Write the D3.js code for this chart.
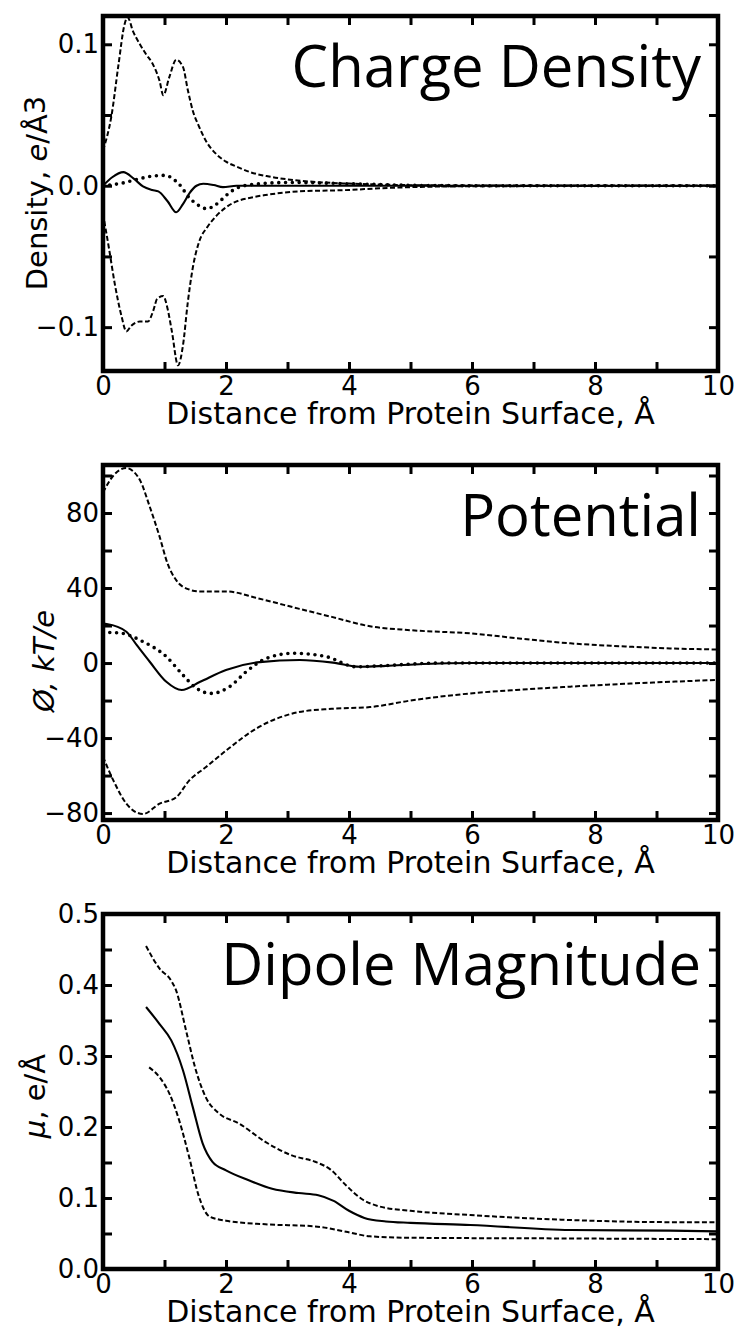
<!DOCTYPE html>
<html>
<head>
<meta charset="utf-8">
<script src="https://cdn.jsdelivr.net/npm/d3@7"></script>
<style>
  html, body { margin: 0; padding: 0; background: #fff; }
  svg { display: block; }
  text { fill: #000; }
</style>
</head>
<body>
<svg id="chart" width="739" height="1332"></svg>
<script>
// ---- Data: distance from protein surface (Å) vs. value ----

// Charge density, e/Å^3
const chargeUpper = [[0,0.025],[0.14,0.05],[0.25,0.085],[0.35,0.114],[0.4,0.119],[0.49,0.109],[0.6,0.1],[0.7,0.093],[0.81,0.086],[0.92,0.074],[0.98,0.064],[1.08,0.077],[1.19,0.089],[1.3,0.084],[1.38,0.0675],[1.46,0.053],[1.56,0.042],[1.67,0.032],[1.85,0.022],[2.0,0.017],[2.2,0.013],[2.4,0.0095],[2.7,0.0065],[3.0,0.0045],[3.5,0.0025],[4.0,0.0015],[4.5,0.0008],[5,0.0004],[6,0.0002],[8,0.0001],[10,0.0001]];
const chargeLower = [[0,-0.02],[0.1,-0.045],[0.19,-0.069],[0.3,-0.092],[0.38,-0.103],[0.46,-0.099],[0.6,-0.096],[0.73,-0.096],[0.82,-0.088],[0.88,-0.08],[0.98,-0.078],[1.05,-0.087],[1.12,-0.103],[1.22,-0.127],[1.3,-0.113],[1.38,-0.082],[1.46,-0.058],[1.56,-0.04],[1.7,-0.029],[1.85,-0.021],[2.1,-0.0125],[2.4,-0.0085],[2.64,-0.0066],[3.2,-0.004],[4.0,-0.003],[4.5,-0.0018],[5,-0.001],[6,-0.0004],[8,-0.0002],[10,-0.0001]];
const chargeNet = [[0,0],[0.15,0.006],[0.33,0.0096],[0.5,0.005],[0.65,-0.0005],[0.8,-0.003],[0.9,-0.004],[1.05,-0.011],[1.19,-0.0188],[1.3,-0.013],[1.41,-0.005],[1.52,0],[1.63,0.0014],[1.8,0.0005],[1.95,-0.001],[2.17,0],[3,0],[10,0]];
const chargeAlt = [[0,0],[0.33,0.002],[0.6,0.005],[0.8,0.0068],[1.0,0.0073],[1.12,0.0055],[1.19,0.003],[1.28,-0.001],[1.36,-0.0063],[1.52,-0.0129],[1.68,-0.0162],[1.8,-0.0145],[1.9,-0.011],[2.0,-0.007],[2.11,-0.0033],[2.4,0.0007],[3.03,0.0023],[4.0,0.0014],[5,0.0003],[6,0],[10,0]];

// Electrostatic potential, kT/e
const potUpper = [[0,91],[0.17,100],[0.38,104],[0.5,102],[0.6,97.6],[0.76,83.4],[0.92,67.4],[1.05,53],[1.19,44.2],[1.4,39.2],[1.56,38.2],[2.0,38.2],[2.53,34.4],[3.18,29],[3.72,24.6],[4.34,19.6],[5.0,17.5],[5.97,15.8],[6.8,13],[7.6,10.5],[8.4,9],[9.22,7.8],[10,7.2]];
const potLower = [[0,-50],[0.17,-62.7],[0.38,-75],[0.65,-80.5],[0.92,-75],[1.19,-71.6],[1.4,-62.7],[1.67,-55.6],[2.0,-46.7],[2.53,-34.2],[3.18,-26.2],[3.72,-24.4],[4.34,-23.5],[5.0,-20],[5.97,-16.2],[6.8,-14.2],[7.6,-12.6],[8.4,-11.2],[9.22,-10],[10,-9]];
const potNet = [[0,21],[0.06,20.8],[0.38,16.7],[0.55,9.5],[0.76,0.7],[1.03,-10],[1.28,-14.4],[1.58,-10],[2.0,-3.7],[2.55,0.5],[3.2,1.6],[3.74,0.2],[4.18,-2],[4.6,-1.5],[5.2,-0.5],[6,0],[10,0]];
const potAlt = [[0,16.4],[0.28,16],[0.65,11.4],[1.03,3.4],[1.3,-6.4],[1.52,-13.5],[1.76,-16.2],[2.06,-12.6],[2.33,-4.6],[2.66,2.5],[3.1,5.2],[3.63,3.4],[4.12,-2],[4.5,-1.5],[5.5,0],[10,0]];

// Dipole magnitude, e/Å
const dipUpper = [[0.7,0.455],[0.92,0.423],[1.11,0.406],[1.19,0.392],[1.35,0.336],[1.51,0.28],[1.67,0.242],[1.89,0.219],[2.21,0.205],[2.64,0.179],[3.07,0.16],[3.45,0.151],[3.7,0.14],[3.95,0.118],[4.2,0.099],[4.5,0.088],[5.0,0.082],[5.97,0.076],[7.6,0.069],[9.22,0.066],[10,0.066]];
const dipMean = [[0.7,0.369],[0.92,0.345],[1.11,0.322],[1.3,0.28],[1.46,0.228],[1.62,0.177],[1.78,0.151],[2.0,0.139],[2.37,0.125],[2.75,0.113],[3.18,0.107],[3.5,0.104],[3.75,0.096],[4.0,0.082],[4.25,0.072],[4.6,0.067],[5.0,0.065],[5.97,0.062],[7.6,0.055],[9.22,0.054],[10,0.053]];
const dipLower = [[0.75,0.284],[0.92,0.27],[1.08,0.247],[1.24,0.209],[1.4,0.158],[1.56,0.102],[1.73,0.074],[2.0,0.068],[2.64,0.063],[3.45,0.06],[3.98,0.052],[4.34,0.046],[5,0.044],[7.6,0.043],[10,0.042]];

// Axis ticks and labels
const xTicks = d3.range(0, 11, 1);
const xLabels = [0, 2, 4, 6, 8, 10];
const chargeTicks = [-0.1, -0.05, 0, 0.05, 0.1];
const chargeLabels = [-0.1, 0, 0.1];
const potTicks = [-80, -60, -40, -20, 0, 20, 40, 60, 80, 100];
const potLabels = [-80, -40, 0, 40, 80];
const dipTicks = d3.range(0, 0.501, 0.05).map(v => +v.toFixed(2));
const dipLabels = [0, 0.1, 0.2, 0.3, 0.4, 0.5];

const xTitle = "Distance from Protein Surface, Å";

// ---- Layout ----
const svg = d3.select("#chart");
const left = 103, right = 718, panelH = 355;
const x = d3.scaleLinear().domain([0, 10]).range([left, right]);
const labelFont = '"DejaVu Sans", sans-serif';
const titleFont = '"Open Sans", "Noto Sans", sans-serif';

const styles = {
  dashed: { width: 2.0, dash: "5,2.5", cap: "butt" },
  dotted: { width: 3.6, dash: "0,6.8", cap: "round" },
  solid:  { width: 2.1, dash: null, cap: "butt" }
};

const panels = [
  {
    top: 16, domain: [-0.131, 0.120], ticks: chargeTicks, labels: chargeLabels,
    fmt: d3.format(".1f"), title: "Charge Density",
    series: [[chargeUpper, "dashed"], [chargeLower, "dashed"], [chargeAlt, "dotted"], [chargeNet, "solid"]],
    ylab: (t) => { t.append("tspan").text("Density, "); t.append("tspan").style("font-style", "italic").text("e"); t.append("tspan").text("/Å"); t.append("tspan").attr("dy", -2).text("3"); },
    ylabX: 47, ylabY: 193
  },
  {
    top: 465, domain: [-83.7, 105.6], ticks: potTicks, labels: potLabels,
    fmt: d3.format("d"), title: "Potential",
    series: [[potUpper, "dashed"], [potLower, "dashed"], [potAlt, "dotted"], [potNet, "solid"]],
    ylab: (t) => { t.append("tspan").style("font-style", "italic").text("Ø, kT/e"); },
    ylabX: 54, ylabY: 661
  },
  {
    top: 914, domain: [0, 0.5], ticks: dipTicks, labels: dipLabels,
    fmt: d3.format(".1f"), title: "Dipole Magnitude",
    series: [[dipUpper, "dashed"], [dipLower, "dashed"], [dipMean, "solid"]],
    ylab: (t) => { t.append("tspan").style("font-style", "italic").text("μ"); t.append("tspan").text(", e/Å"); },
    ylabX: 45, ylabY: 1096
  }
];

panels.forEach((p, i) => {
  const bottom = p.top + panelH;
  const y = d3.scaleLinear().domain(p.domain).range([bottom, p.top]);
  const g = svg.append("g");

  // clip curves to the plot frame
  const clipId = "clip" + i;
  svg.append("clipPath").attr("id", clipId)
    .append("rect").attr("x", left).attr("y", p.top).attr("width", right - left).attr("height", panelH);

  const line = d3.line().x(d => x(d[0])).y(d => y(d[1])).curve(d3.curveMonotoneX);
  const curves = g.append("g").attr("clip-path", `url(#${clipId})`);
  p.series.forEach(([data, kind]) => {
    const s = styles[kind];
    curves.append("path")
      .attr("d", line(data))
      .attr("fill", "none")
      .attr("stroke", "#000")
      .attr("stroke-width", s.width)
      .attr("stroke-linecap", s.cap)
      .attr("stroke-linejoin", "round")
      .attr("stroke-dasharray", s.dash);
  });

  // inward ticks on all four sides
  const tickLen = -9;
  const bottomAxis = d3.axisBottom(x).tickValues(xTicks).tickSize(tickLen).tickPadding(6)
    .tickFormat(d => xLabels.includes(d) ? d3.format("d")(d) : "");
  const topAxis = d3.axisTop(x).tickValues(xTicks).tickSize(tickLen).tickFormat("");
  const leftAxis = d3.axisLeft(y).tickValues(p.ticks).tickSize(tickLen).tickPadding(4)
    .tickFormat(d => p.labels.some(v => Math.abs(v - d) < 1e-9) ? p.fmt(d) : "");
  const rightAxis = d3.axisRight(y).tickValues(p.ticks).tickSize(tickLen).tickFormat("");

  const axes = [
    [bottomAxis, `translate(0,${bottom})`],
    [topAxis, `translate(0,${p.top})`],
    [leftAxis, `translate(${left},0)`],
    [rightAxis, `translate(${right},0)`]
  ];
  axes.forEach(([ax, tr]) => {
    const a = g.append("g").attr("transform", tr).call(ax);
    a.select(".domain").remove();
    a.selectAll(".tick line").attr("stroke", "#000").attr("stroke-width", 3);
    a.selectAll(".tick text").attr("font-size", 26).attr("font-family", labelFont).attr("fill", "#000");
  });

  // frame
  g.append("rect")
    .attr("x", left).attr("y", p.top)
    .attr("width", right - left).attr("height", panelH)
    .attr("fill", "none").attr("stroke", "#000").attr("stroke-width", 4.5);

  // panel title
  g.append("text")
    .attr("x", 701).attr("y", p.top + 71)
    .attr("text-anchor", "end")
    .attr("font-family", titleFont)
    .attr("font-size", 58)
    .text(p.title);

  // x-axis title
  g.append("text")
    .attr("x", (left + right) / 2).attr("y", bottom + 53)
    .attr("text-anchor", "middle")
    .attr("font-family", labelFont)
    .attr("font-size", 30)
    .text(xTitle);

  // y-axis title
  const yt = g.append("text")
    .attr("transform", `translate(${p.ylabX},${p.ylabY}) rotate(-90)`)
    .attr("text-anchor", "middle")
    .attr("font-family", labelFont)
    .attr("font-size", 29);
  p.ylab(yt);
});
</script>
</body>
</html>
